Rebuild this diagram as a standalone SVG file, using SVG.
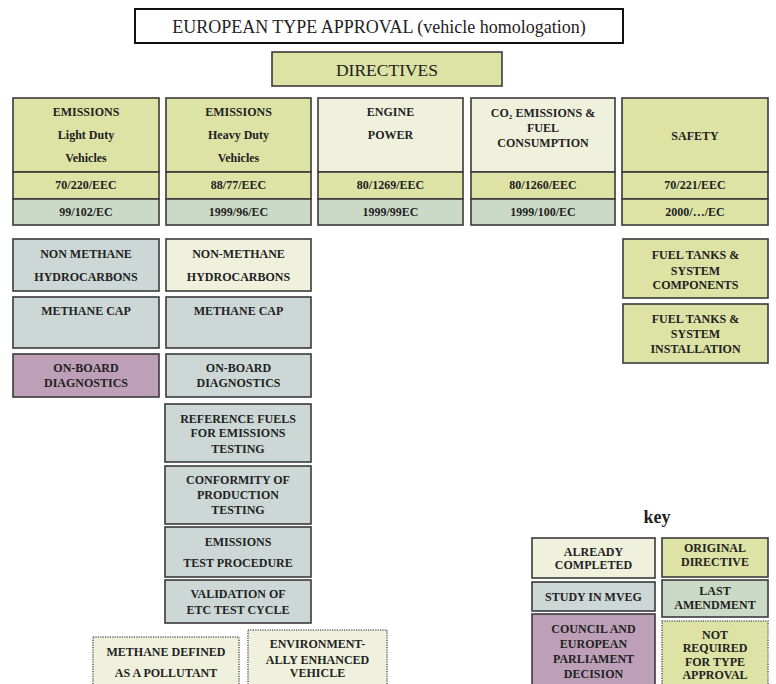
<svg xmlns="http://www.w3.org/2000/svg" width="776" height="684" viewBox="0 0 776 684">
<style>
text{font-family:"Liberation Serif","Times New Roman",serif;fill:#222;text-anchor:middle}
.b{font-weight:bold;font-size:12px}
.box{stroke:#3a3a3a;stroke-width:1.6}
.g{fill:#dce3a4}
.c{fill:#f0f1dd}
.m{fill:#cdd8d6}
.a{fill:#cbdac6}
.p{fill:#bda0b8}
.dot{stroke:#666;stroke-width:1.6;stroke-dasharray:1.2 1.2}
</style>
<rect width="776" height="684" fill="#fff"/>
<g id="title">
<rect x="135" y="9" width="488" height="34" fill="#fff" stroke="#111" stroke-width="2"/>
<text x="379" y="33" style="font-size:18px">EUROPEAN TYPE APPROVAL (vehicle homologation)</text>
</g>
<g id="directives">
<rect class="box g" x="272" y="52" width="230" height="34"/>
<text x="387" y="76" style="font-size:17.5px">DIRECTIVES</text>
</g>
<g id="col-emissions-ld">
<rect class="box g" x="13" y="98" width="146" height="74"/>
<rect class="box g" x="13" y="172" width="146" height="27"/>
<rect class="box a" x="13" y="199" width="146" height="26"/>
<text class="b" x="86" y="116">EMISSIONS</text>
<text class="b" x="86" y="139">Light Duty</text>
<text class="b" x="86" y="162">Vehicles</text>
<text class="b" x="86" y="189">70/220/EEC</text>
<text class="b" x="86" y="216">99/102/EC</text>
</g>
<g id="col-emissions-hd">
<rect class="box g" x="166" y="98" width="145" height="74"/>
<rect class="box g" x="166" y="172" width="145" height="27"/>
<rect class="box a" x="166" y="199" width="145" height="26"/>
<text class="b" x="238.5" y="116">EMISSIONS</text>
<text class="b" x="238.5" y="139">Heavy Duty</text>
<text class="b" x="238.5" y="162">Vehicles</text>
<text class="b" x="238.5" y="189">88/77/EEC</text>
<text class="b" x="238.5" y="216">1999/96/EC</text>
</g>
<g id="col-engine-power">
<rect class="box c" x="318" y="98" width="145" height="74"/>
<rect class="box g" x="318" y="172" width="145" height="27"/>
<rect class="box a" x="318" y="199" width="145" height="26"/>
<text class="b" x="390.5" y="116">ENGINE</text>
<text class="b" x="390.5" y="139">POWER</text>
<text class="b" x="390.5" y="189">80/1269/EEC</text>
<text class="b" x="390.5" y="216">1999/99EC</text>
</g>
<g id="col-co2">
<rect class="box c" x="471" y="98" width="144" height="74"/>
<rect class="box g" x="471" y="172" width="144" height="27"/>
<rect class="box a" x="471" y="199" width="144" height="26"/>
<text class="b" x="543" y="117">CO₂  EMISSIONS &amp;</text>
<text class="b" x="543" y="132">FUEL</text>
<text class="b" x="543" y="147">CONSUMPTION</text>
<text class="b" x="543" y="189">80/1260/EEC</text>
<text class="b" x="543" y="216">1999/100/EC</text>
</g>
<g id="col-safety">
<rect class="box g" x="622" y="98" width="146" height="74"/>
<rect class="box g" x="622" y="172" width="146" height="27"/>
<rect class="box g" x="622" y="199" width="146" height="26"/>
<text class="b" x="695" y="140">SAFETY</text>
<text class="b" x="695" y="189">70/221/EEC</text>
<text class="b" x="695" y="216">2000/…/EC</text>
</g>
<g id="ld-nmhc">
<rect class="box m" x="13" y="239" width="146" height="52"/>
<text class="b" x="86" y="258">NON METHANE</text>
<text class="b" x="86" y="281">HYDROCARBONS</text>
</g>
<g id="ld-methane-cap">
<rect class="box m" x="13" y="297" width="146" height="51"/>
<text class="b" x="86" y="315">METHANE CAP</text>
</g>
<g id="ld-obd">
<rect class="box p" x="13" y="354" width="146" height="43"/>
<text class="b" x="86" y="372">ON-BOARD</text>
<text class="b" x="86" y="387">DIAGNOSTICS</text>
</g>
<g id="hd-nmhc">
<rect class="box c" x="166" y="239" width="145" height="52"/>
<text class="b" x="238.5" y="258">NON-METHANE</text>
<text class="b" x="238.5" y="281">HYDROCARBONS</text>
</g>
<g id="hd-methane-cap">
<rect class="box m" x="166" y="297" width="145" height="51"/>
<text class="b" x="238.5" y="315">METHANE CAP</text>
</g>
<g id="hd-obd">
<rect class="box m" x="166" y="354" width="145" height="43"/>
<text class="b" x="238.5" y="372">ON-BOARD</text>
<text class="b" x="238.5" y="387">DIAGNOSTICS</text>
</g>
<g id="hd-ref-fuels">
<rect class="box m" x="165" y="404" width="146" height="58"/>
<text class="b" x="238" y="423">REFERENCE FUELS</text>
<text class="b" x="238" y="437">FOR EMISSIONS</text>
<text class="b" x="238" y="453">TESTING</text>
</g>
<g id="hd-cop">
<rect class="box m" x="165" y="466" width="146" height="58"/>
<text class="b" x="238" y="484">CONFORMITY OF</text>
<text class="b" x="238" y="499">PRODUCTION</text>
<text class="b" x="238" y="514">TESTING</text>
</g>
<g id="hd-test-proc">
<rect class="box m" x="165" y="527" width="146" height="50"/>
<text class="b" x="238" y="546">EMISSIONS</text>
<text class="b" x="238" y="567">TEST PROCEDURE</text>
</g>
<g id="hd-etc">
<rect class="box m" x="165" y="580" width="146" height="43"/>
<text class="b" x="238" y="598">VALIDATION OF</text>
<text class="b" x="238" y="614">ETC TEST CYCLE</text>
</g>
<g id="methane-pollutant">
<rect class="dot c" x="93" y="637" width="146" height="60"/>
<text class="b" x="166" y="656">METHANE DEFINED</text>
<text class="b" x="166" y="677">AS A POLLUTANT</text>
</g>
<g id="eev">
<rect class="dot c" x="248" y="630" width="139" height="67"/>
<text class="b" x="317.5" y="648">ENVIRONMENT-</text>
<text class="b" x="317.5" y="664">ALLY ENHANCED</text>
<text class="b" x="317.5" y="677">VEHICLE</text>
</g>
<g id="fuel-tanks-components">
<rect class="box g" x="623" y="239" width="145" height="59"/>
<text class="b" x="695.5" y="259">FUEL TANKS &amp;</text>
<text class="b" x="695.5" y="275">SYSTEM</text>
<text class="b" x="695.5" y="289">COMPONENTS</text>
</g>
<g id="fuel-tanks-installation">
<rect class="box g" x="623" y="304" width="145" height="59"/>
<text class="b" x="695.5" y="323">FUEL TANKS &amp;</text>
<text class="b" x="695.5" y="338">SYSTEM</text>
<text class="b" x="695.5" y="353">INSTALLATION</text>
</g>
<g id="key">
<text x="657" y="523" style="font-size:18px;font-weight:bold">key</text>
<g id="key-completed">
<rect class="box c" x="532" y="538" width="123" height="40"/>
<text class="b" x="593.5" y="556">ALREADY</text>
<text class="b" x="593.5" y="569">COMPLETED</text>
</g>
<g id="key-original">
<rect class="box g" x="662" y="538" width="106" height="39"/>
<text class="b" x="715" y="552">ORIGINAL</text>
<text class="b" x="715" y="566">DIRECTIVE</text>
</g>
<g id="key-mveg">
<rect class="box m" x="532" y="582" width="123" height="29"/>
<text class="b" x="593.5" y="601">STUDY IN MVEG</text>
</g>
<g id="key-amendment">
<rect class="box a" x="662" y="580" width="106" height="37"/>
<text class="b" x="715" y="595">LAST</text>
<text class="b" x="715" y="609">AMENDMENT</text>
</g>
<g id="key-council">
<rect class="box p" x="532" y="614" width="123" height="80"/>
<text class="b" x="593.5" y="633">COUNCIL AND</text>
<text class="b" x="593.5" y="648">EUROPEAN</text>
<text class="b" x="593.5" y="663">PARLIAMENT</text>
<text class="b" x="593.5" y="678">DECISION</text>
</g>
<g id="key-not-required">
<rect class="dot g" x="662" y="621" width="106" height="73"/>
<text class="b" x="715" y="639">NOT</text>
<text class="b" x="715" y="652">REQUIRED</text>
<text class="b" x="715" y="666">FOR TYPE</text>
<text class="b" x="715" y="679">APPROVAL</text>
</g>
</g>
<g id="connectors"/>
</svg>
